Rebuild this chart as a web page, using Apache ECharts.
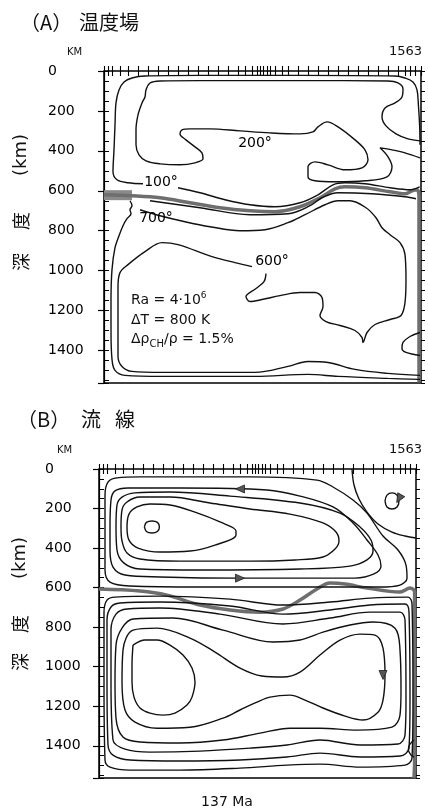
<!DOCTYPE html>
<html><head><meta charset="utf-8">
<script src="https://cdn.jsdelivr.net/npm/echarts@6/dist/echarts.min.js"></script>
<style>html,body{margin:0;padding:0;background:#fff}#c{width:428px;height:808px}</style>
</head><body><div id="c"></div>
<script>
// ---------- axes ----------
const DEPTH_MAX = 1563;          // km
const WIDTH_MAX = 1585;          // km (horizontal extent of the box)
const depthTicks = [0, 200, 400, 600, 800, 1000, 1200, 1400];
const xTickValues = [0,20,40,80,120,170,220,270,320,370,420,470,520,570,620,670,705,740,765,780,795,815,830,855,890,920,970,1020,1070,1120,1170,1220,1270,1320,1370,1420,1470,1505,1530,1555,1585];

// ---------- (A) temperature field : isotherms [x km, depth km] ----------
const tempC100a = [[195,565],[120,560],[65,545],[45,505],[50,395],[55,270],[60,160],[75,95],[100,55],[140,35],[205,25],[480,22],[980,22],[1455,25],[1505,35],[1545,55],[1565,95],[1572,170],[1578,270],[1580,370]];
const tempC100b = [[370,585],[480,610],[605,645],[730,670],[855,680],[980,660],[1070,620],[1145,570],[1205,560],[1305,565],[1430,585],[1530,595],[1578,580]];
const tempC200 = [[1580,350],[1520,340],[1460,315],[1410,275],[1390,230],[1405,185],[1455,160],[1490,130],[1495,90],[1470,60],[1420,50],[980,48],[480,48],[280,50],[230,60],[210,95],[205,130],[190,160],[170,220],[160,295],[160,370],[175,420],[210,450],[280,465],[380,470],[455,460],[495,440],[490,410],[455,380],[410,345],[380,315],[390,295],[430,290],[530,290],[680,300],[830,310],[980,315],[1045,305],[1070,280],[1115,255],[1170,280],[1255,345],[1305,395],[1320,445],[1290,485],[1205,495],[1120,470],[1055,455],[1020,480],[1020,530],[1055,550],[1155,555],[1305,550],[1415,530],[1440,480],[1420,430],[1380,385],[1440,395],[1505,410],[1580,435]];
const tempC700 = [[230,650],[480,685],[730,720],[920,715],[1030,675],[1090,635],[1170,610],[1340,615],[1505,630],[1560,640]];
const tempC600a = [[1580,1525],[1420,1515],[1255,1495],[1120,1460],[1020,1455],[920,1480],[755,1510],[480,1510],[290,1510],[140,1505],[90,1480],[70,1430],[70,1245],[70,1080],[80,1010],[120,970],[205,905],[290,860],[370,870],[540,930],[655,960],[740,980]];
const tempC600b = [[810,1015],[800,1055],[760,1090],[710,1130],[730,1155],[790,1145],[880,1125],[980,1110],[1055,1110],[1090,1135],[1095,1180],[1080,1225],[1110,1255],[1180,1275],[1255,1300],[1290,1335],[1295,1360],[1315,1310],[1355,1270],[1430,1245],[1485,1225],[1505,1160],[1510,1045],[1505,920],[1480,860],[1430,820],[1390,785],[1360,735],[1310,685],[1230,650],[1170,650],[1105,670],[1005,720],[920,760],[805,795],[680,800],[530,780],[405,755],[280,725],[180,695]];
const tempOuter = [[130,650],[140,675],[130,695],[135,715],[115,740],[95,775],[75,825],[55,885],[40,995],[35,1145],[35,1295],[40,1445],[55,1500],[105,1525],[290,1530],[755,1530],[1020,1520],[1170,1530],[1420,1540],[1580,1545]];
const tempRightSmall = [[1580,1310],[1530,1330],[1495,1360],[1490,1390],[1510,1410],[1580,1425]];
const tempBandThick = [[0,622],[140,622]];
const tempBand = [[0,620],[140,625],[280,635],[430,660],[580,685],[730,700],[855,705],[980,680],[1080,635],[1155,590],[1205,580],[1305,585],[1430,605],[1505,615],[1540,600],[1565,595],[1575,625],[1575,845],[1575,1560]];
const tempLabels = [{value:[285,560],name:'100°'},{value:[260,740],name:'700°'},{value:[755,360],name:'200°'},{value:[840,955],name:'600°'}];

// ---------- (B) stream lines ----------
const streamU1 = [[227,293],[237,270],[265,263],[292,270],[302,293],[292,316],[265,324],[237,316],[227,293]];
const streamU2 = [[140,293],[150,228],[190,192],[255,177],[355,182],[480,218],[605,268],[685,314],[685,334],[580,385],[455,415],[305,420],[195,400],[150,360],[140,293]];
const streamU3 = [[110,293],[115,207],[140,167],[205,142],[355,142],[555,172],[755,202],[955,228],[1120,273],[1185,319],[1200,364],[1180,405],[1120,445],[980,460],[755,466],[405,466],[205,455],[140,425],[115,364],[110,293]];
const streamU4 = [[85,293],[90,182],[115,142],[180,121],[355,116],[655,137],[1005,172],[1205,223],[1305,293],[1360,359],[1370,415],[1340,460],[1255,491],[1005,506],[505,511],[205,506],[125,476],[90,410],[85,293]];
const streamU5 = [[55,293],[60,157],[80,111],[145,96],[405,96],[840,106],[1005,137],[1170,192],[1270,273],[1340,359],[1395,435],[1410,491],[1375,531],[1280,552],[1005,552],[705,552],[305,546],[130,536],[70,496],[55,410],[55,293]];
const streamU6 = [[30,293],[30,132],[45,66],[90,45],[205,40],[755,40],[1090,56],[1170,91],[1270,157],[1340,223],[1420,339],[1495,410],[1535,486],[1540,552],[1505,587],[1405,597],[1005,597],[505,597],[155,592],[55,572],[30,511],[30,293]];
const streamCorner = [[1265,0],[1275,81],[1300,152],[1340,218],[1395,278],[1465,319],[1530,339],[1585,349]];
const streamCornerLoop = [[1430,162],[1440,132],[1465,121],[1490,132],[1500,162],[1490,192],[1465,202],[1440,192],[1430,162]];
const streamL1 = [[170,891],[230,865],[290,865],[355,891],[420,941],[465,1007],[480,1078],[465,1154],[440,1194],[380,1235],[320,1245],[255,1235],[205,1209],[175,1154],[165,1078],[165,992],[170,891]];
const streamL2 = [[115,1078],[120,916],[170,815],[290,805],[455,855],[580,926],[705,1007],[815,1047],[920,1052],[1005,1027],[1105,941],[1205,865],[1305,835],[1380,840],[1420,906],[1430,1042],[1420,1169],[1395,1230],[1320,1270],[1230,1250],[1120,1209],[1030,1169],[955,1144],[855,1154],[790,1179],[705,1219],[620,1260],[455,1306],[290,1311],[180,1280],[130,1219],[115,1078]];
const streamL3 = [[80,1078],[85,891],[115,805],[170,759],[370,754],[620,815],[870,875],[1005,865],[1120,825],[1255,789],[1370,774],[1480,805],[1505,916],[1510,1118],[1505,1245],[1465,1306],[1290,1321],[1105,1311],[955,1311],[805,1336],[620,1371],[405,1386],[205,1381],[120,1356],[85,1260],[80,1078]];
const streamL4 = [[60,1078],[60,815],[85,734],[140,708],[305,703],[605,734],[920,784],[1155,754],[1355,724],[1505,724],[1530,764],[1535,1169],[1530,1346],[1495,1391],[1305,1396],[1105,1371],[940,1396],[755,1412],[505,1427],[255,1432],[130,1417],[70,1371],[60,1078]];
const streamL5 = [[40,1078],[40,764],[60,698],[105,678],[305,673],[655,693],[920,734],[1155,713],[1355,688],[1530,683],[1550,724],[1555,1169],[1550,1412],[1505,1452],[1305,1457],[1105,1437],[940,1457],[705,1472],[405,1477],[155,1472],[70,1447],[45,1396],[40,1078]];
const streamL6 = [[25,1078],[25,724],[40,663],[80,648],[305,643],[655,658],[920,688],[1155,673],[1355,653],[1545,648],[1565,683],[1570,1169],[1565,1462],[1530,1498],[1305,1508],[1105,1493],[940,1498],[705,1513],[405,1523],[155,1523],[55,1508],[30,1472],[25,1078]];
const streamRightSmall = [[1575,1371],[1552,1396],[1547,1422],[1560,1447],[1575,1457]];
const streamBand = [[0,607],[205,617],[340,638],[505,688],[655,713],[805,724],[920,708],[1005,663],[1090,607],[1155,577],[1230,582],[1340,602],[1505,622],[1555,602],[1578,622],[1578,916],[1578,1472],[1575,1563]];
const streamArrows = [{value:[705,101],symbolRotate:90},{value:[705,552],symbolRotate:-90},{value:[1420,1042],symbolRotate:180},{value:[1500,150],symbolRotate:150}];

// ---------- build ----------
const INK = '#111';
function line(data, xi, yi, width, color) {
  return {type:'line', xAxisIndex:xi, yAxisIndex:yi, data:data, showSymbol:false, symbol:'none',
    smooth:0.35, lineStyle:{color:color||INK, width:width||1.4}, silent:true, z:3};
}
function xAxes(g) {
  const base = {gridIndex:g, type:'value', min:0, max:WIDTH_MAX, axisLine:{show:false},
    axisTick:{show:true, inside:false, length:5, customValues:xTickValues, lineStyle:{color:'#000', width:1.1}},
    axisLabel:{show:false}, splitLine:{show:false}};
  return [Object.assign({position:'bottom'}, base), Object.assign({position:'top'}, base)];
}
function yAxes(g, margin) {
  return [
    {gridIndex:g, type:'value', inverse:true, min:0, max:DEPTH_MAX, interval:200, position:'left', offset:7,
      axisLine:{show:true, lineStyle:{color:'#000', width:1.2}},
      axisTick:{show:true, length:6, lineStyle:{color:'#000', width:1.2}},
      axisLabel:{show:true, align:'left', margin:margin, fontSize:14, fontFamily:'DejaVu Sans', color:'#000',
        formatter: v => depthTicks.indexOf(v) >= 0 ? String(v) : ''},
      splitLine:{show:false}},
    {gridIndex:g, type:'value', inverse:true, min:0, max:DEPTH_MAX, interval:50, position:'left', offset:7,
      axisLine:{show:false}, axisTick:{show:true, inside:true, length:5, lineStyle:{color:'#000', width:1}},
      axisLabel:{show:false}, splitLine:{show:false}},
    {gridIndex:g, type:'value', inverse:true, min:0, max:DEPTH_MAX, interval:50, position:'right', offset:0,
      axisLine:{show:false}, axisTick:{show:true, inside:false, length:4, lineStyle:{color:'#000', width:1}},
      axisLabel:{show:false}, splitLine:{show:false}}
  ];
}

const series = [];
// panel A  (xAxis 0, yAxis 0)
series.push(line(tempBandThick, 0, 0, 10, '#8a8a8a'));
series.push(line(tempBand, 0, 0, 3.5, '#6e6e6e'));
[tempC100a, tempC100b, tempC200, tempC700, tempC600a, tempC600b, tempOuter, tempRightSmall].forEach(d => series.push(line(d, 0, 0)));
series.push({type:'scatter', xAxisIndex:0, yAxisIndex:0, data:tempLabels, symbolSize:0,
  itemStyle:{color:'rgba(0,0,0,0)', opacity:1}, silent:true, z:5,
  label:{show:true, position:'inside', formatter:'{b}', fontSize:14, fontFamily:'DejaVu Sans', color:'#000', opacity:1}});
// panel B  (xAxis 2, yAxis 3)
series.push(line(streamBand, 2, 3, 3.5, '#6e6e6e'));
[streamU1, streamU2, streamU3, streamU4, streamU5, streamU6, streamCorner, streamCornerLoop,
 streamL1, streamL2, streamL3, streamL4, streamL5, streamL6, streamRightSmall].forEach(d => series.push(line(d, 2, 3)));
series.push({type:'scatter', xAxisIndex:2, yAxisIndex:3, data:streamArrows, symbol:'triangle', symbolSize:[8,9],
  itemStyle:{color:'#555', borderColor:'#222', borderWidth:0.8, opacity:1}, silent:true, z:6});

const txt = (x, y, text, font, extra) => Object.assign({type:'text', x:x, y:y,
  style:{text:text, font:font, fill:'#111', align:'left', verticalAlign:'middle'}}, extra || {});
const rot = (x, y, text, font) => ({type:'text', x:x, y:y, rotation:Math.PI/2,
  style:{text:text, font:font, fill:'#111', align:'center', verticalAlign:'middle'}});

const graphic = [
  txt(20, 22, '（A）', '20px "Noto Sans CJK JP"'),
  txt(79, 22, '温度場', '20px "Noto Sans CJK JP"'),
  txt(17, 419, '（B）', '20px "Noto Sans CJK JP"'),
  txt(81, 419, '流', '20px "Noto Sans CJK JP"'),
  txt(115, 419, '線', '20px "Noto Sans CJK JP"'),
  txt(67, 52, 'KM', '10px "DejaVu Sans"'),
  {type:'text', x:422, y:52, style:{text:'1563', font:'13px "DejaVu Sans"', fill:'#111', align:'right', verticalAlign:'middle'}},
  txt(57, 450, 'KM', '10px "DejaVu Sans"'),
  {type:'text', x:422, y:450, style:{text:'1563', font:'13px "DejaVu Sans"', fill:'#111', align:'right', verticalAlign:'middle'}},
  rot(21, 262, '深', '18px "Noto Sans CJK JP"'),
  rot(21, 221, '度', '18px "Noto Sans CJK JP"'),
  rot(21, 155, '(km)', '18px "DejaVu Sans"'),
  rot(20, 662, '深', '18px "Noto Sans CJK JP"'),
  rot(20, 624, '度', '18px "Noto Sans CJK JP"'),
  rot(20, 558, '(km)', '18px "DejaVu Sans"'),
  {type:'text', x:227, y:802, style:{text:'137 Ma', font:'14px "DejaVu Sans"', fill:'#111', align:'center', verticalAlign:'middle'}},
  {type:'text', x:131, y:320, style:{
    text:'{n|Ra = 4·10}{sp|6}\n{n|ΔT = 800 K}\n{n|Δρ}{sb|CH}{n|/ρ = 1.5%}',
    fill:'#111', align:'left', verticalAlign:'middle',
    rich:{
      n:{font:'14px "DejaVu Sans"', lineHeight:19.5, fill:'#111'},
      sp:{font:'9px "DejaVu Sans"', lineHeight:10, verticalAlign:'top', fill:'#111'},
      sb:{font:'10px "DejaVu Sans"', lineHeight:10, verticalAlign:'bottom', fill:'#111'}
    }}}
];

const option = {
  animation:false,
  backgroundColor:'#fff',
  grid:[
    {left:104, top:71, width:317, height:312, show:true, borderColor:'#000', borderWidth:1.5, backgroundColor:'rgba(0,0,0,0)'},
    {left:99, top:469, width:317, height:309, show:true, borderColor:'#000', borderWidth:1.5, backgroundColor:'rgba(0,0,0,0)'}
  ],
  xAxis:[...xAxes(0), ...xAxes(1)],
  yAxis:[...yAxes(0, 49), ...yAxes(1, 47)],
  series:series,
  graphic:graphic
};
const chart = echarts.init(document.getElementById('c'), null, {renderer:'canvas'});
chart.setOption(option);
</script></body></html>
